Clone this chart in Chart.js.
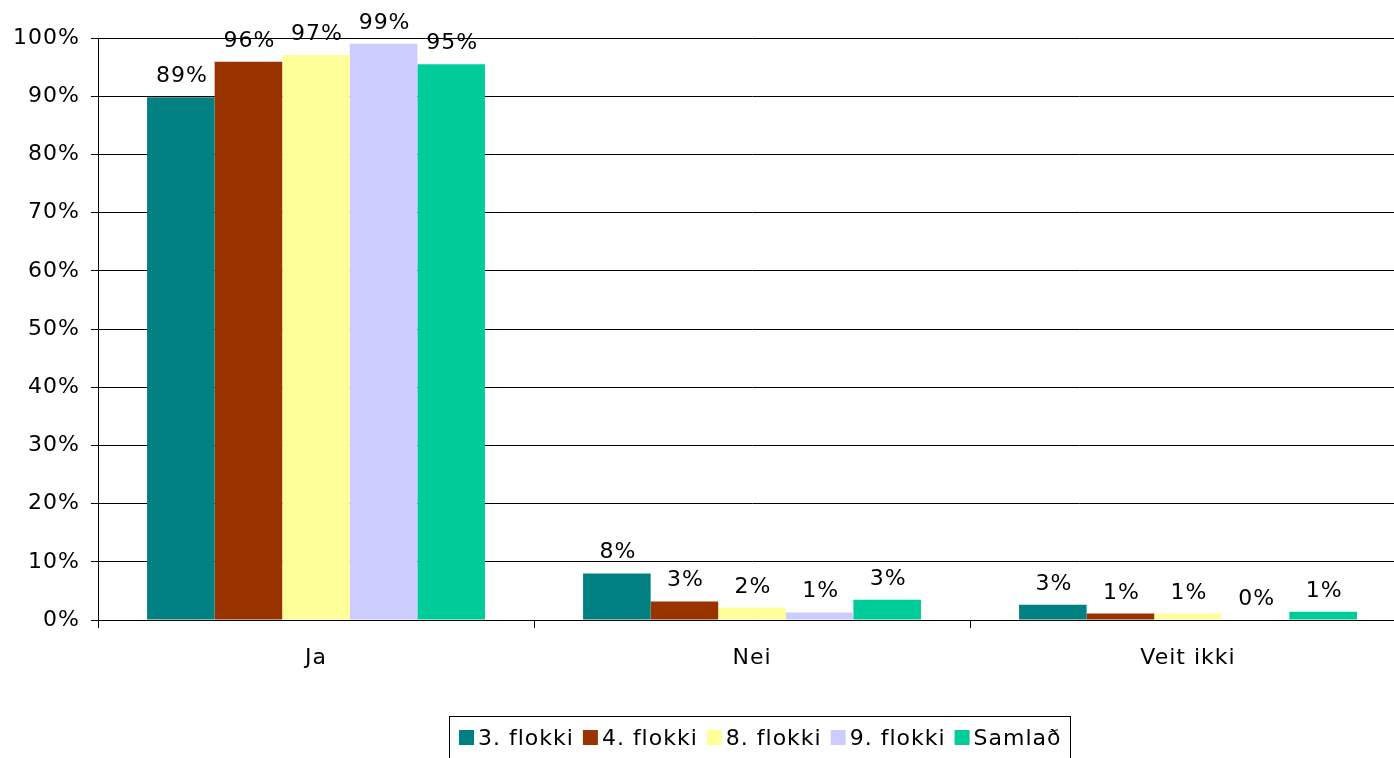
<!DOCTYPE html>
<html lang="is">
<head>
    <meta charset="UTF-8">
    <title>Ja / Nei / Veit ikki</title>
    <script src="https://cdn.jsdelivr.net/npm/chart.js"></script>
    <style>
        html, body { margin: 0; padding: 0; background: #fff; overflow: hidden; }
        #wrap { width: 1394px; height: 758px; overflow: hidden; }
    </style>
</head>
<body>
    <div id="wrap"><canvas id="chart" width="1406" height="758"></canvas></div>

    <script>
        const categories = ['Ja', 'Nei', 'Veit ikki'];
        const seriesNames = ['3. flokki', '4. flokki', '8. flokki', '9. flokki', 'Samlað'];
        const seriesColors = ['#008080', '#993300', '#FFFF99', '#CCCCFF', '#00CC99'];

        // values in %
        const flokki3 = [89.8, 8.0, 2.6];
        const flokki4 = [95.9, 3.2, 1.1];
        const flokki8 = [97.1, 2.1, 1.1];
        const flokki9 = [99.0, 1.3, 0];
        const samlad = [95.5, 3.5, 1.4];

        // data labels as printed on the chart
        const labels3 = ['89%', '8%', '3%'];
        const labels4 = ['96%', '3%', '1%'];
        const labels8 = ['97%', '2%', '1%'];
        const labels9 = ['99%', '1%', '0%'];
        const labelsS = ['95%', '3%', '1%'];

        const yTicks = [0, 10, 20, 30, 40, 50, 60, 70, 80, 90, 100];

        const seriesValues = [flokki3, flokki4, flokki8, flokki9, samlad];
        const seriesLabels = [labels3, labels4, labels8, labels9, labelsS];

        const FONT = 'DejaVu Sans, Verdana, sans-serif';
        const FSIZE = 22;

        // the original text is a bit wider-set than DejaVu
        const spacing = {
            id: 'spacing',
            beforeInit(chart) { chart.ctx.letterSpacing = '1px'; },
            beforeUpdate(chart) { chart.ctx.letterSpacing = '1px'; },
            beforeDraw(chart) { chart.ctx.letterSpacing = '1px'; }
        };

        // text above each bar
        const barLabels = {
            id: 'barLabels',
            afterDatasetsDraw(chart) {
                const ctx = chart.ctx;
                ctx.save();
                ctx.font = FSIZE + 'px ' + FONT;
                ctx.letterSpacing = '1px';
                ctx.fillStyle = '#000';
                ctx.textAlign = 'center';
                ctx.textBaseline = 'alphabetic';
                chart.data.datasets.forEach((ds, i) => {
                    const meta = chart.getDatasetMeta(i);
                    meta.data.forEach((bar, j) => {
                        ctx.fillText(ds.valueLabels[j], bar.x + 1, bar.y - 15);
                    });
                });
                ctx.restore();
            }
        };

        // boxed legend under the chart
        const boxLegend = {
            id: 'boxLegend',
            afterDraw(chart) {
                const ctx = chart.ctx;
                ctx.save();
                ctx.font = FSIZE + 'px ' + FONT;
                ctx.letterSpacing = '1px';
                const keyW = 15, keyH = 15, keyGap = 4, itemGap = 9, pad = 10;
                const widths = chart.data.datasets.map(ds => ctx.measureText(ds.label).width);
                let total = 0;
                widths.forEach((w, i) => { total += keyW + keyGap + w + (i < widths.length - 1 ? itemGap : 0); });
                const boxW = Math.round(total + pad * 2 - 2);
                const left = 449.5;
                const top = 716.5;
                ctx.strokeStyle = '#000';
                ctx.lineWidth = 1;
                ctx.strokeRect(left, top, boxW, 44);
                let x = left + pad - 0.5;
                const baseline = 745;
                ctx.textBaseline = 'alphabetic';
                ctx.textAlign = 'left';
                chart.data.datasets.forEach((ds, i) => {
                    ctx.fillStyle = ds.backgroundColor;
                    ctx.fillRect(x, 730, keyW, keyH);
                    x += keyW + keyGap;
                    ctx.fillStyle = '#000';
                    ctx.fillText(ds.label, x, baseline);
                    x += widths[i] + itemGap;
                });
                ctx.restore();
            }
        };

        const ctx = document.getElementById('chart').getContext('2d');
        new Chart(ctx, {
            type: 'bar',
            data: {
                labels: categories,
                datasets: seriesNames.map((name, i) => ({
                    label: name,
                    data: seriesValues[i],
                    valueLabels: seriesLabels[i],
                    backgroundColor: seriesColors[i],
                    borderWidth: 0,
                    categoryPercentage: 0.775,
                    barPercentage: 1
                }))
            },
            options: {
                responsive: false,
                animation: false,
                devicePixelRatio: 1,
                layout: { padding: { top: 38, right: 0, bottom: 78, left: 0 } },
                plugins: {
                    legend: { display: false },
                    tooltip: { enabled: false }
                },
                scales: {
                    x: {
                        offset: true,
                        grid: {
                            offset: true,
                            drawOnChartArea: false,
                            drawTicks: true,
                            tickLength: 8,
                            color: '#000'
                        },
                        border: { color: '#000', width: 1 },
                        ticks: {
                            color: '#000',
                            font: { family: FONT, size: FSIZE },
                            padding: 17,
                            maxRotation: 0
                        },
                        afterFit(scale) { scale.height = 60; }
                    },
                    y: {
                        min: 0,
                        max: 100,
                        afterBuildTicks(scale) { scale.ticks = yTicks.map(v => ({ value: v })); },
                        grid: {
                            color: '#000',
                            lineWidth: 1,
                            tickLength: 7
                        },
                        border: { color: '#000', width: 1 },
                        ticks: {
                            color: '#000',
                            font: { family: FONT, size: FSIZE },
                            padding: 11,
                            callback: v => v + '%'
                        },
                        afterFit(scale) { scale.width = 98; }
                    }
                }
            },
            plugins: [spacing, barLabels, boxLegend]
        });
    </script>
</body>
</html>
